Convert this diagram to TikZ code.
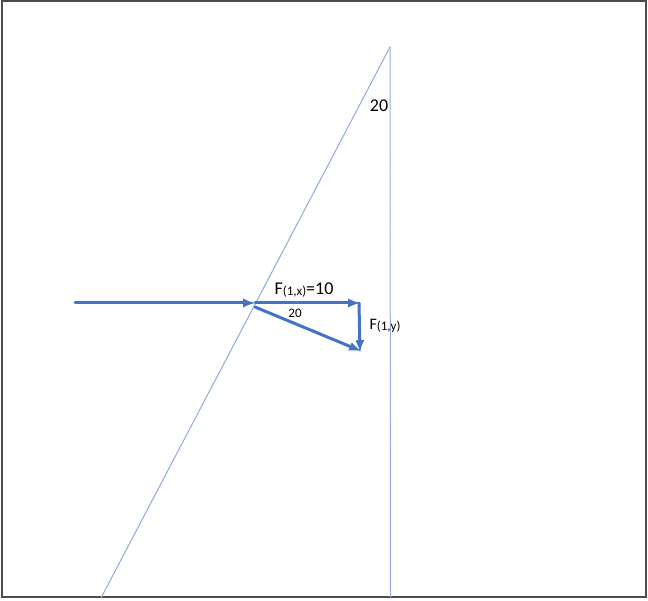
\documentclass[tikz,border=0pt]{standalone}
\usepackage{fontspec}
\setmainfont{Carlito}
\usetikzlibrary{arrows,calc}
\usepackage{tkz-euclide}
\definecolor{ForceClr}{HTML}{4472C4}
\definecolor{GuideClr}{HTML}{8FAADC}
\definecolor{FrameClr}{rgb}{0.3,0.3,0.3}
\newcommand{\idx}[2]{#1\raisebox{-1.5pt}{\fontsize{13}{15}\selectfont #2}}

\begin{document}
\begin{tikzpicture}[x=1pt,y=1pt]
\tkzSetUpLine[line width=1pt,color=GuideClr]
\useasboundingbox (0,0) rectangle (648,600);

\tkzDefPoints{1.5/3/F1,645.5/598.5/F2,390/553/T,101/2/S,390.5/3/V}
\tkzDefPoints{75/297/A,255/297/O,360/297/X,359/297/Xc,360/248/Y,255/293/R0,361/249/R1}

% frame
\draw[line width=2pt,color=FrameClr] (F1) rectangle (F2);

% incline and vertical
\tkzDrawSegments[line width=1pt,color=GuideClr](T,S)
\tkzDrawSegments[line width=1pt,color=GuideClr,dash pattern=on 2pt off 0.6pt](T,V)

% forces
\tkzDrawSegments[line width=3pt,color=ForceClr,-latex](A,O O,X Xc,Y R0,R1)

% labels
\node[font=\fontsize{18}{21}\selectfont] (angT) at (379,494) {20};
\node[font=\fontsize{18}{21}\selectfont] (lblFx) at (304,310) {\idx{F}{(1,x)}=10};
\node[font=\fontsize{13}{15}\selectfont] (angO) at (295,287) {20};
\node[font=\fontsize{16}{19}\selectfont] (lblFy) at (385,274) {\idx{F}{(1,y)}};

\end{tikzpicture}
\end{document}
